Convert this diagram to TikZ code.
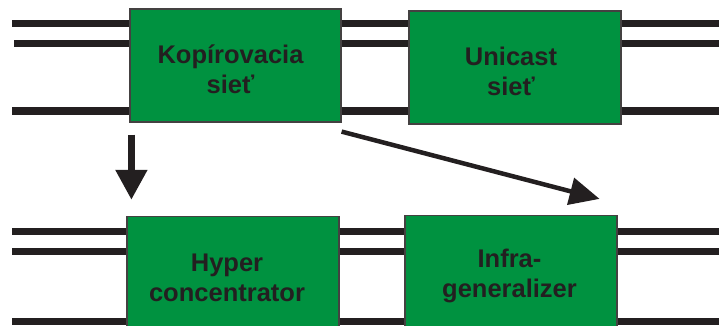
\documentclass[tikz,border=0pt]{standalone}
\usepackage{fontspec}
\setmainfont{Liberation Sans}
\usetikzlibrary{arrows.meta}

\definecolor{netgreen}{RGB}{0,146,64}
\definecolor{ink}{RGB}{35,31,32}

\begin{document}
\begin{tikzpicture}[x=1pt, y=-1pt,
  netbox/.style={draw=ink!85, line width=1.2pt, fill=netgreen,
                 minimum width=212pt, minimum height=113pt},
  netlabel/.style={align=center, inner sep=0pt, text=ink,
                   font=\fontsize{25.5}{30}\selectfont\bfseries},
  bus/.style={draw=ink, line width=7pt},
  arr/.style={draw=ink, -{Triangle[length=30pt, width=30pt]}, line width=7.5pt}]
\useasboundingbox (0,0) rectangle (719,326);
\clip (0,0) rectangle (719,326);

% the four switching stages
\node[netbox, minimum width=211pt,
  label={[netlabel, xshift=-5pt, yshift=-4pt]center:{Kopírovacia\\sieť}}]
  (kop) at (235.5,65.5) {};
\node[netbox,
  label={[netlabel, xshift=-4pt, yshift=-4pt]center:{Unicast\\sieť}}]
  (uni) at (515,67.5) {};
\node[netbox,
  label={[netlabel, xshift=-6pt, yshift=-5pt]center:{Hyper\\concentrator}}]
  (hyp) at (233,273) {};
\node[netbox,
  label={[netlabel, xshift=-1.5pt, yshift=-4pt]center:{Infra-\\generalizer}}]
  (inf) at (511,272) {};

% input/output lines of each row
\foreach \y/\s [count=\i] in {24/12, 44/14, 111/12} {
  \coordinate (in\i) at (\s,\y);
  \coordinate (out\i) at (725,\y);
  \draw[bus] (in\i) -- (kop.west |- in\i);
  \draw[bus] (kop.east |- in\i) -- (uni.west |- in\i);
  \draw[bus] (uni.east |- in\i) -- (out\i);
}
\foreach \y [count=\i] in {231, 251, 321} {
  \coordinate (lin\i) at (12,\y);
  \coordinate (lout\i) at (725,\y);
  \draw[bus] (lin\i) -- (hyp.west |- lin\i);
  \draw[bus] (hyp.east |- lin\i) -- (inf.west |- lin\i);
  \draw[bus] (inf.east |- lin\i) -- (lout\i);
}

% transformations
\draw[arr] ([xshift=2pt, yshift=-12pt]kop.south west)
  -- ([xshift=5pt, yshift=16pt]hyp.north west);
\draw[arr, line width=4.5pt, -{Triangle[length=30pt, width=27pt]}]
  ([yshift=-9pt]kop.south east) -- ([xshift=-18pt, yshift=16pt]inf.north east);
\end{tikzpicture}
\end{document}
